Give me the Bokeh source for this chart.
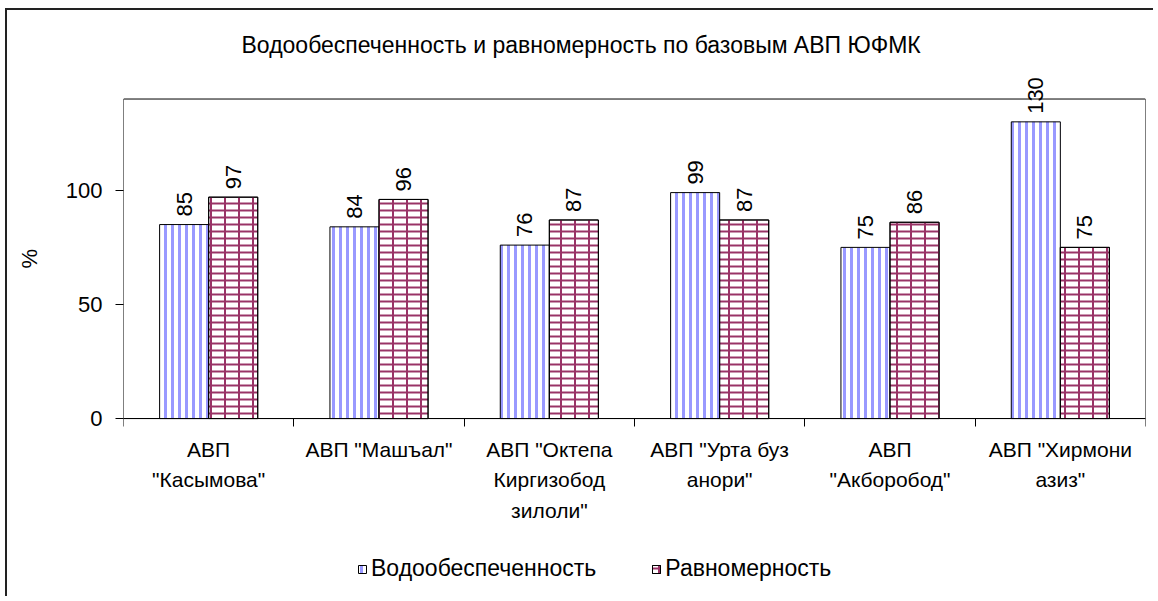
from math import pi
from bokeh.plotting import figure
from bokeh.models import (ColumnDataSource, Range1d, LinearAxis, BoxAnnotation,
                          FixedTicker, Legend, LegendItem, LabelSet)
from bokeh.core.properties import value
from bokeh.transform import dodge
from bokeh.embed import file_html
from bokeh.resources import INLINE

# ---- data ----
categories = ['АВП\n"Касымова"', 'АВП "Машъал"', 'АВП "Октепа\nКиргизобод\nзилоли"',
              'АВП "Урта буз\nанори"', 'АВП\n"Акборобод"', 'АВП "Хирмони\nазиз"']
water = [85, 84, 76, 99, 75, 130]
uniform = [97, 96, 87, 87, 86, 75]
series_names = ["Водообеспеченность", "Равномерность"]
title_text = "Водообеспеченность и равномерность по базовым АВП ЮФМК"
y_label = "%"
y_ticks = [0, 50, 100]
y_box_max = 140

FONT = "Liberation Sans"
BAR_W = 0.288
LINE_STEP = 30.5

n = len(categories)
centers = [i + 0.5 for i in range(n)]
src = ColumnDataSource(dict(xc=centers, zero=[0] * n,
                            water=water, uniform=uniform,
                            water_txt=[str(v) for v in water],
                            uniform_txt=[str(v) for v in uniform]))

# frame spans from above the plot box down to the legend row
p = figure(width=1148, height=588, x_range=Range1d(0, n), y_range=Range1d(-72.7, 156),
           output_backend="svg", toolbar_location=None, x_axis_location=None,
           min_border_left=116, min_border_right=10, min_border_top=52, min_border_bottom=14)
p.styles = {"margin-left": "5px", "margin-top": "8px",
            "border-left": "2px solid #222", "border-top": "2px solid #222"}
p.xgrid.visible = False
p.ygrid.visible = False
p.outline_line_color = None
p.background_fill_color = "white"
p.border_fill_color = "white"

# title
p.title.text = title_text
p.title.text_font = FONT
p.title.text_font_size = "23px"
p.title.text_font_style = "normal"
p.title.text_color = "black"
p.title.align = "left"
p.title.offset = 118
p.title.standoff = 10

# plot-area box
p.add_layout(BoxAnnotation(left=0, right=n, bottom=0, top=y_box_max, fill_alpha=0,
                           line_color="black", line_alpha=1, line_width=1))

# y axis
ya = p.yaxis[0]
ya.ticker = FixedTicker(ticks=y_ticks)
ya.major_tick_in = 0
ya.major_tick_out = 8
ya.minor_tick_line_color = None
ya.axis_line_color = None
ya.major_tick_line_color = "black"
ya.major_label_text_font = FONT
ya.major_label_text_font_size = "22px"
ya.major_label_text_color = "black"
ya.major_label_standoff = 13

# "%" label, centred on the plot area
pct_axis = LinearAxis(ticker=FixedTicker(ticks=[y_box_max / 2]),
                      major_label_overrides={y_box_max / 2: y_label},
                      major_label_orientation="vertical", axis_line_color=None,
                      major_tick_line_color=None, minor_tick_line_color=None,
                      major_tick_in=0, major_tick_out=0, major_label_standoff=20,
                      major_label_text_font=FONT, major_label_text_font_size="22px",
                      major_label_text_color="black")
p.add_layout(pct_axis, "left")

# x: axis line at 0 with tick marks at category boundaries
edge_ticks = list(range(n + 1))
edge_axis = LinearAxis(fixed_location=0, ticker=FixedTicker(ticks=edge_ticks),
                       major_label_overrides={t: "" for t in edge_ticks},
                       major_tick_in=0, major_tick_out=8, minor_tick_line_color=None,
                       major_label_standoff=0, major_label_text_font_size="1px",
                       axis_line_color="black", major_tick_line_color="black")
p.add_layout(edge_axis, "below")

# category labels under the boxes, one centred row per text line
lines = [c.split("\n") for c in categories]
for k in range(max(len(l) for l in lines)):
    lsrc = ColumnDataSource(dict(xc=centers, zero=[0] * n,
                                 txt=[l[k] if k < len(l) else "" for l in lines]))
    p.add_layout(LabelSet(x="xc", y="zero", text="txt", source=lsrc, text_align="center",
                          text_baseline="top", y_offset=-19 - LINE_STEP * k,
                          text_font=value(FONT), text_font_size=value("21px"),
                          text_color="black"))

# bars
r1 = p.vbar(x=dodge("xc", -BAR_W / 2), top="water", width=BAR_W, source=src,
            fill_color="white", line_color="black", line_width=1,
            hatch_pattern="vertical_line", hatch_color="#9999ff", hatch_scale=7, hatch_weight=3)
# brick-like pattern: horizontal courses + vertical joints
r2 = p.vbar(x=dodge("xc", BAR_W / 2), top="uniform", width=BAR_W, source=src,
            fill_color="white", line_color="black", line_width=1,
            hatch_pattern="horizontal_line", hatch_color="#993366", hatch_scale=7, hatch_weight=2)
r2b = p.vbar(x=dodge("xc", BAR_W / 2), top="uniform", width=BAR_W, source=src,
             fill_alpha=0, line_color="black", line_width=1,
             hatch_pattern="vertical_line", hatch_color="#993366", hatch_scale=14, hatch_weight=2)

# value labels
for col, off in (("water", -BAR_W / 2), ("uniform", BAR_W / 2)):
    p.add_layout(LabelSet(x=dodge("xc", off), y=col, text=col + "_txt", source=src,
                          angle=pi / 2, text_align="left", text_baseline="middle", y_offset=8,
                          text_font=value(FONT), text_font_size=value("22px"), text_color="black"))

# legend
legend = Legend(items=[LegendItem(label=series_names[0], renderers=[r1]),
                       LegendItem(label=series_names[1], renderers=[r2, r2b])],
                orientation="horizontal", location=(234, 2), padding=0, margin=0,
                spacing=55, label_standoff=4, glyph_width=10, glyph_height=10,
                border_line_color=None, background_fill_alpha=0,
                label_text_font=FONT, label_text_font_size="23px", label_text_color="black")
p.add_layout(legend, "center")

open("out.html", "w").write(file_html(p, INLINE))
